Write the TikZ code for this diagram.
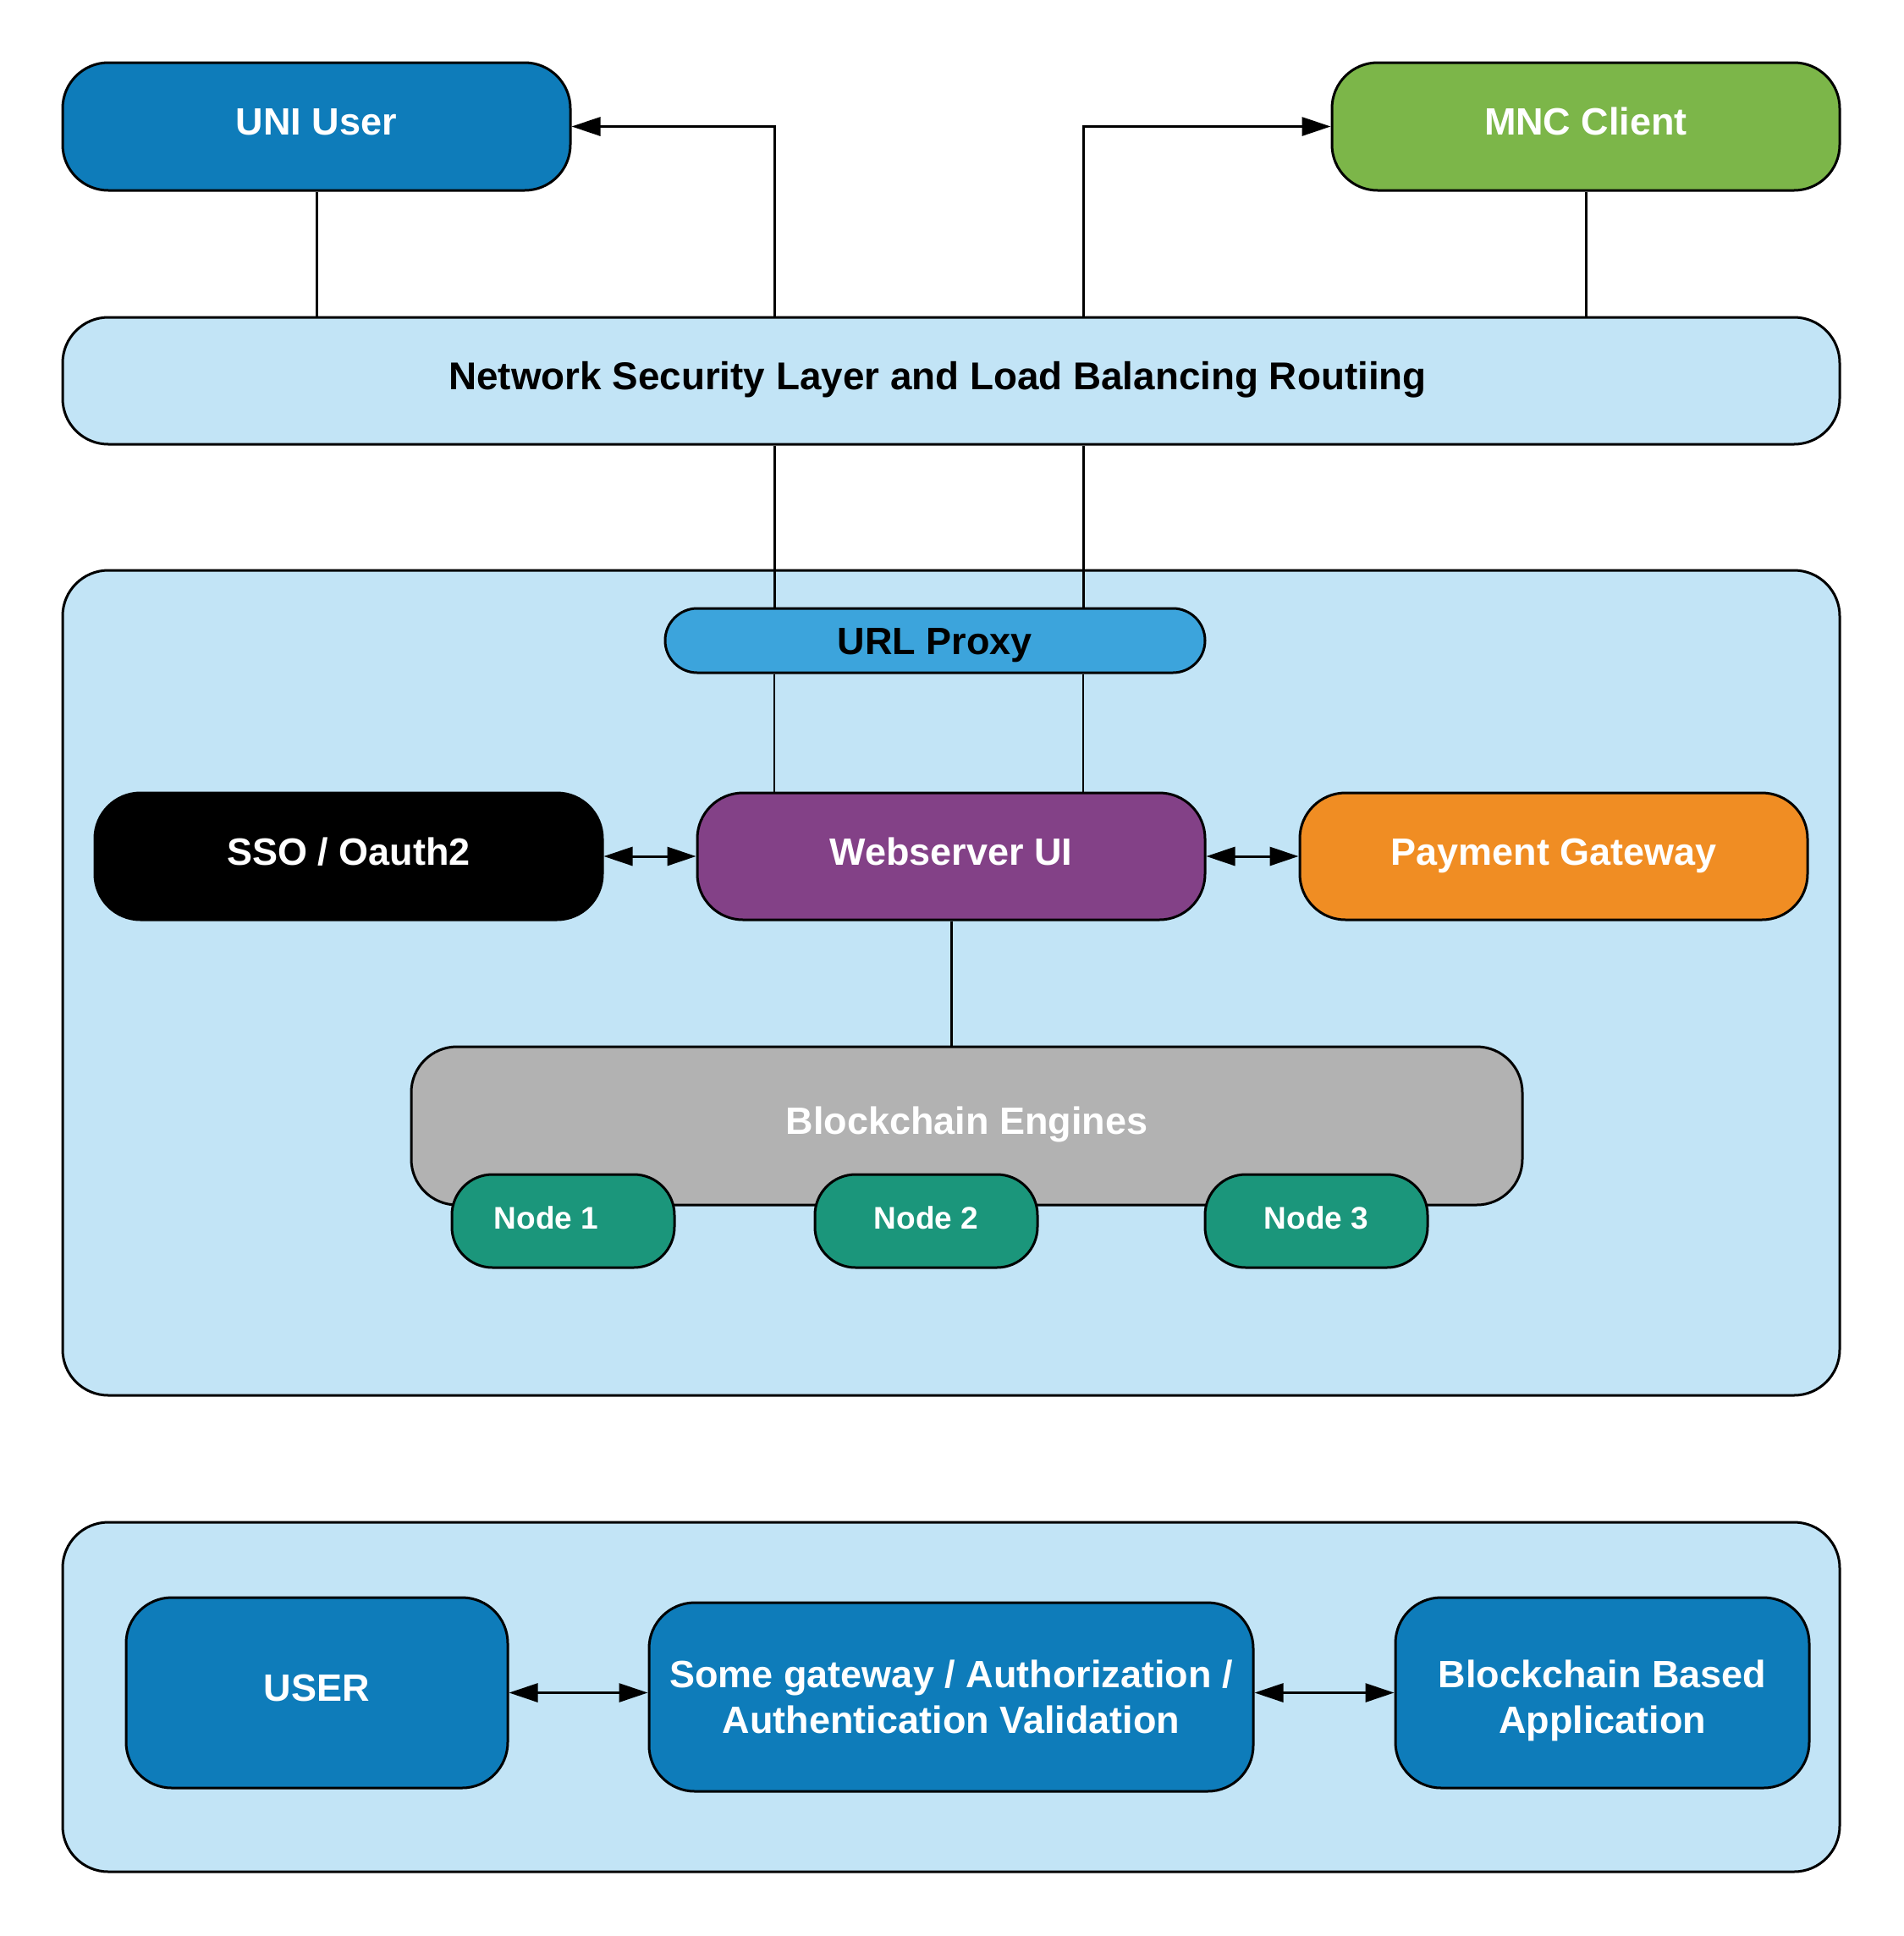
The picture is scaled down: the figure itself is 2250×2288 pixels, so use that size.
\documentclass[tikz,border=0pt]{standalone}
\usepackage{fontspec}
\setmainfont{Liberation Sans}
\usetikzlibrary{arrows.meta}
\definecolor{uniblue}{RGB}{14,124,186}
\definecolor{mncgreen}{RGB}{124,182,73}
\definecolor{lightbg}{RGB}{194,228,246}
\definecolor{urlblue}{RGB}{60,164,220}
\definecolor{webpurple}{RGB}{131,65,135}
\definecolor{payorange}{RGB}{240,141,35}
\definecolor{engray}{RGB}{178,178,178}
\definecolor{nodeteal}{RGB}{27,150,123}
\tikzset{
  box/.style={draw=black, line width=1.5pt, rounded corners=27pt, inner sep=0pt,
    font=\bfseries\fontsize{22.5}{27}\selectfont, text=white, align=center},
  onebox/.style={box, text height=16pt, text depth=6pt},
  smallbox/.style={box, rounded corners=24pt, font=\bfseries\fontsize{18.5}{22}\selectfont,
    text height=13.2pt, text depth=4pt},
  conn/.style={line width=1.5pt, draw=black},
  thinconn/.style={line width=1pt, draw=black},
  arr/.style={conn, -{Triangle[length=17pt,width=11pt]}},
  darr/.style={conn, {Triangle[length=17pt,width=11pt]}-{Triangle[length=17pt,width=11pt]}},
}
\begin{document}
\begin{tikzpicture}[x=0.5pt,y=-0.5pt]
\useasboundingbox[fill=white] (0,0) rectangle (2250,2288);
% containers
\node[box, fill=lightbg, minimum width=1050pt, minimum height=487.5pt] (outer) at (1124,1161.5) {};
\node[box, fill=lightbg, minimum width=1050pt, minimum height=206.5pt] (outerb) at (1124,2005.5) {};
% top
\node[onebox, fill=uniblue, minimum width=300pt, minimum height=75.5pt] (uni) at (374,149.5) {UNI User};
\node[onebox, fill=mncgreen, minimum width=300pt, minimum height=75.5pt] (mnc) at (1874,149.5) {MNC Client};
\node[onebox, fill=lightbg, text=black, font=\bfseries\fontsize{22.9}{27}\selectfont, minimum width=1050pt, minimum height=75pt] (net) at (1124,450) {Network Security Layer and Load Balancing Routiing\hspace*{16pt}};
\coordinate (c1) at (915,0);
\coordinate (c2) at (1280,0);
% middle
\node[box, fill=urlblue, text=black, rounded corners=19pt, text height=16pt, text depth=0pt, minimum width=319pt, minimum height=38pt] (url) at (1105,757) {URL Proxy};
\node[onebox, fill=black, minimum width=300pt, minimum height=75pt] (sso) at (412,1012) {SSO / Oauth2};
\node[onebox, fill=webpurple, minimum width=300pt, minimum height=75pt] (web) at (1124,1012) {Webserver UI};
\node[onebox, fill=payorange, minimum width=300pt, minimum height=75pt] (pay) at (1836,1012) {Payment Gateway};
\node[onebox, fill=engray, minimum width=656.5pt, minimum height=93.5pt] (bce) at (1142.5,1330.5) {Blockchain Engines};
\node[smallbox, fill=nodeteal, minimum width=131.5pt, minimum height=55pt] (n1) at (665.5,1443) {Node 1\hspace*{20pt}};
\node[smallbox, fill=nodeteal, minimum width=131.5pt, minimum height=55pt] (n2) at (1094.5,1443) {Node 2};
\node[smallbox, fill=nodeteal, minimum width=131.5pt, minimum height=55pt] (n3) at (1555.5,1443) {Node 3};
% bottom
\node[onebox, fill=uniblue, minimum width=225.5pt, minimum height=112.5pt] (user) at (374.5,2000.5) {USER};
\node[box, fill=uniblue, minimum width=357pt, minimum height=111.5pt] (gw) at (1124,2005.5) {Some gateway / Authorization /\\Authentication Validation};
\node[box, fill=uniblue, minimum width=244.5pt, minimum height=112.5pt] (bba) at (1893.5,2000.5) {\rule{0pt}{25.4pt}Blockchain Based\\Application};
% connectors
\draw[conn] (uni.south) -- (uni.south |- net.north);
\draw[conn] (mnc.south) -- (mnc.south |- net.north);
\draw[arr] (net.north -| c1) |- (uni.east);
\draw[arr] (net.north -| c2) |- (mnc.west);
\draw[conn] (net.south -| c1) -- (url.north -| c1);
\draw[conn] (net.south -| c2) -- (url.north -| c2);
\draw[thinconn] (url.south -| c1) -- (web.north -| c1);
\draw[thinconn] (url.south -| c2) -- (web.north -| c2);
\draw[darr] (sso.east) -- (web.west);
\draw[darr] (web.east) -- (pay.west);
\draw[conn] (web.south) -- (web.south |- bce.north);
\draw[darr] (user.east) -- (user.east -| gw.west);
\draw[darr] (gw.east |- user.east) -- (user.east -| bba.west);
\end{tikzpicture}
\end{document}
